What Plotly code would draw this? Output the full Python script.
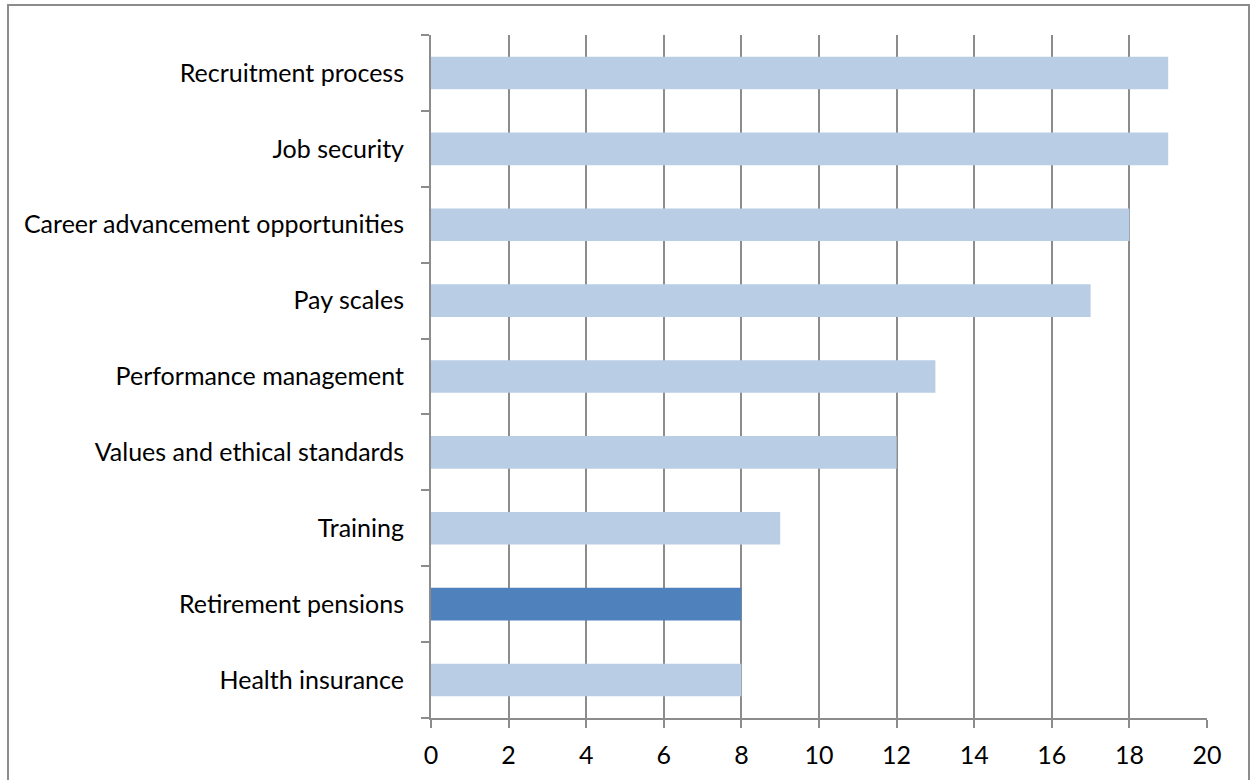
import plotly.graph_objects as go

# Survey topics (bottom to top) and the number of responses for each
categories = [
    "Health insurance",
    "Retirement pensions",
    "Training",
    "Values and ethical standards",
    "Performance management",
    "Pay scales",
    "Career advancement opportunities",
    "Job security",
    "Recruitment process",
]
counts = [8, 8, 9, 12, 13, 17, 18, 19, 19]
highlight = "Retirement pensions"
x_ticks = [0, 2, 4, 6, 8, 10, 12, 14, 16, 18, 20]

LIGHT = "#B9CDE5"
DARK = "#4F81BD"
GRID = "#8C8C8C"

bar_colors = [DARK if c == highlight else LIGHT for c in categories]

fig = go.Figure(
    go.Bar(
        x=counts,
        y=categories,
        orientation="h",
        marker=dict(color=bar_colors, line=dict(width=0)),
        width=0.43,
        hoverinfo="x+y",
    )
)

W, H = 1253, 780
ml, mr, mt, mb = 431, 46, 35, 62
pw, ph = W - ml - mr, H - mt - mb

fig.update_layout(
    width=W,
    height=H,
    margin=dict(l=ml, r=mr, t=mt, b=mb, pad=0, autoexpand=False),
    paper_bgcolor="white",
    plot_bgcolor="white",
    font=dict(family="Lato, 'Open Sans', sans-serif", size=25, color="#000000"),
    showlegend=False,
    xaxis=dict(
        range=[0, 20],
        tickvals=x_ticks,
        ticktext=[str(v) for v in x_ticks],
        showgrid=True,
        gridcolor=GRID,
        gridwidth=2,
        zeroline=False,
        showline=True,
        linecolor=GRID,
        linewidth=2,
        ticks="outside",
        ticklen=8,
        tickwidth=2,
        tickcolor=GRID,
        ticklabelstandoff=6,
        tickfont=dict(size=25),
        automargin=False,
        fixedrange=True,
    ),
    yaxis=dict(
        type="category",
        categoryorder="array",
        categoryarray=categories,
        range=[-0.5, len(categories) - 0.5],
        showgrid=False,
        zeroline=False,
        showline=True,
        linecolor=GRID,
        linewidth=2,
        ticks="outside",
        tickson="boundaries",
        ticklen=8,
        tickwidth=2,
        tickcolor=GRID,
        ticklabelstandoff=20,
        tickfont=dict(size=25),
        automargin=False,
        fixedrange=True,
    ),
    shapes=[
        # outer chart frame
        dict(
            type="rect",
            xref="paper",
            yref="paper",
            x0=(8 - ml) / pw,
            x1=(1249 - ml) / pw,
            y0=(H - mb - 800) / ph,
            y1=(H - mb - 5) / ph,
            line=dict(color="#8C8C8C", width=2),
            fillcolor="rgba(0,0,0,0)",
            layer="below",
        )
    ],
)

fig.write_html("out.html")
